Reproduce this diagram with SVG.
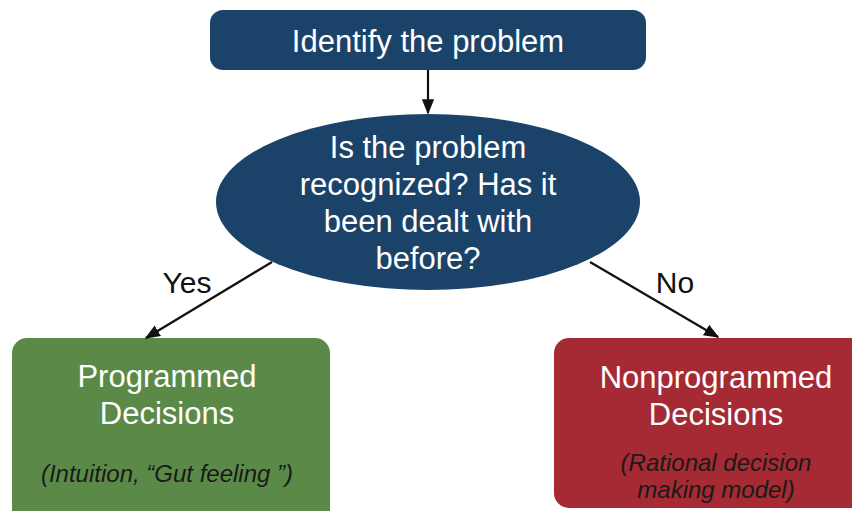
<svg xmlns="http://www.w3.org/2000/svg" width="852" height="511" viewBox="0 0 852 511">
  <defs>
    <marker id="arrow" viewBox="0 0 10 10" refX="9" refY="5" markerWidth="7" markerHeight="7" orient="auto">
      <path d="M0,1 L10,5 L0,9 z" fill="#111"/>
    </marker>
    <style>
      .title { font-family: "Liberation Sans", Arial, sans-serif; fill: #ffffff; text-anchor: middle; font-size: 31px; }
      .note { font-family: "Liberation Sans", Arial, sans-serif; fill: #1a1a1a; text-anchor: middle; font-size: 24px; font-style: italic; }
      .label { font-family: "Liberation Sans", Arial, sans-serif; fill: #111; text-anchor: middle; font-size: 30px; }
      .conn { stroke: #111; stroke-width: 2.2; fill: none; marker-end: url(#arrow); }
    </style>
  </defs>
  <rect width="852" height="511" fill="#ffffff"/>

  <g id="identify">
    <rect x="210" y="10" width="436" height="60" rx="13" fill="#1b4369"/>
    <text class="title" x="428" y="52">Identify the problem</text>
  </g>

  <g id="question">
    <ellipse cx="428" cy="202" rx="212" ry="88" fill="#1b4369"/>
    <text class="title" x="428" y="158">Is the problem</text>
    <text class="title" x="428" y="195">recognized? Has it</text>
    <text class="title" x="428" y="232">been dealt with</text>
    <text class="title" x="428" y="269">before?</text>
  </g>

  <g id="programmed">
    <rect x="12" y="338" width="318" height="190" rx="15" fill="#5b8a48"/>
    <text class="title" x="167" y="387">Programmed</text>
    <text class="title" x="167" y="424">Decisions</text>
    <text class="note" x="167" y="482">(Intuition,  “Gut feeling ”)</text>
  </g>

  <g id="nonprogrammed">
    <rect x="554" y="338" width="320" height="170" rx="15" fill="#a52a33"/>
    <text class="title" x="716" y="388">Nonprogrammed</text>
    <text class="title" x="716" y="425">Decisions</text>
    <text class="note" x="716" y="471">(Rational decision</text>
    <text class="note" x="716" y="498">making model)</text>
  </g>

  <g id="connectors">
    <line class="conn" x1="428" y1="70" x2="428" y2="113"/>
    <line class="conn" x1="272" y1="262" x2="146" y2="338"/>
    <line class="conn" x1="590" y1="262" x2="718" y2="337"/>
    <text class="label" x="187" y="293">Yes</text>
    <text class="label" x="675" y="293">No</text>
  </g>
</svg>
